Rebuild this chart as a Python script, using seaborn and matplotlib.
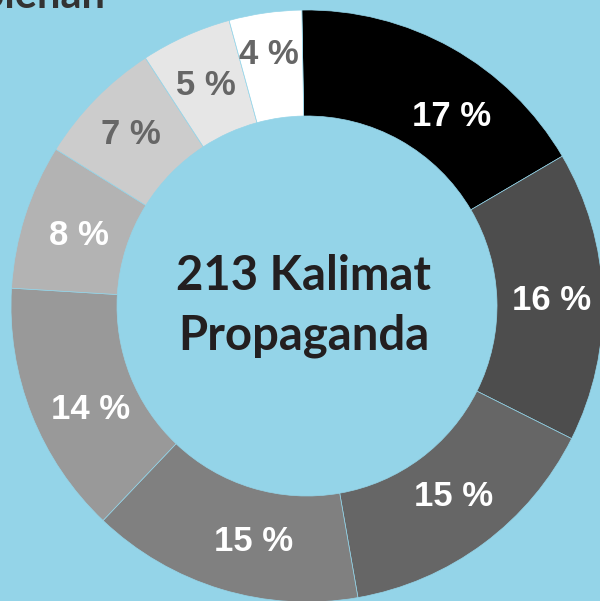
import matplotlib
matplotlib.use("Agg")
import matplotlib.pyplot as plt
import seaborn as sns
import numpy as np

# ---- data ----
labels = ["17 %", "16 %", "15 %", "15 %", "14 %", "8 %", "7 %", "5 %", "4 %"]
values = [17, 16, 15, 15, 14, 8, 7, 5, 4]
center_title = "213 Kalimat\nPropaganda"
header_text = "Perolehan"

# ---- style ----
bg = "#94D4E8"
slice_colors = ["#000000", "#4D4D4D", "#666666", "#808080", "#999999",
                "#B3B3B3", "#CCCCCC", "#E6E6E6", "#FFFFFF"]
label_colors = ["white"] * 6 + ["#666666"] * 3
label_nudge_deg = [-8.0, -0.5, 1.0, 4.0, 4.0, 0.5, 0.3, 0.5, 0.5]
label_radius = [238, 245, 240, 242, 240, 239, 246, 243, 254]

sns.set_theme(style="white")
plt.rcParams["font.family"] = ["Liberation Sans", "DejaVu Sans"]

fig = plt.figure(figsize=(6.0, 6.01), dpi=100, facecolor=bg)
ax = fig.add_axes([0, 0, 1, 1])
ax.set_facecolor(bg)

R_out, ring_w = 296, 106
wedges, _ = ax.pie(values, colors=sns.color_palette(slice_colors), startangle=91.0,
                   counterclock=False, radius=R_out, center=(0, 0),
                   wedgeprops=dict(width=ring_w, edgecolor=bg, linewidth=0.5))

for w, lab, col, nd, rr in zip(wedges, labels, label_colors, label_nudge_deg, label_radius):
    mid = np.deg2rad((w.theta1 + w.theta2) / 2 + nd)
    ax.text(rr * np.cos(mid), rr * np.sin(mid), lab, ha="center", va="center",
            color=col, fontsize=25, fontweight="bold", family=["Liberation Sans", "DejaVu Sans"])

ax.text(-3, 0, center_title, ha="center", va="center", fontsize=34,
        fontweight="bold", color="#231F20", linespacing=1.45, family=["Lato", "DejaVu Sans"])

ax.set_xlim(-307, 293)
ax.set_ylim(-295, 306)
ax.set_aspect("equal")
ax.axis("off")

fig.text(106 / 600, 1 - 8 / 601, header_text, ha="right", va="baseline",
         fontsize=30, fontweight="bold", color="#333333", family=["Lato", "DejaVu Sans"])

fig.savefig("out.png", dpi=100, facecolor=bg)
